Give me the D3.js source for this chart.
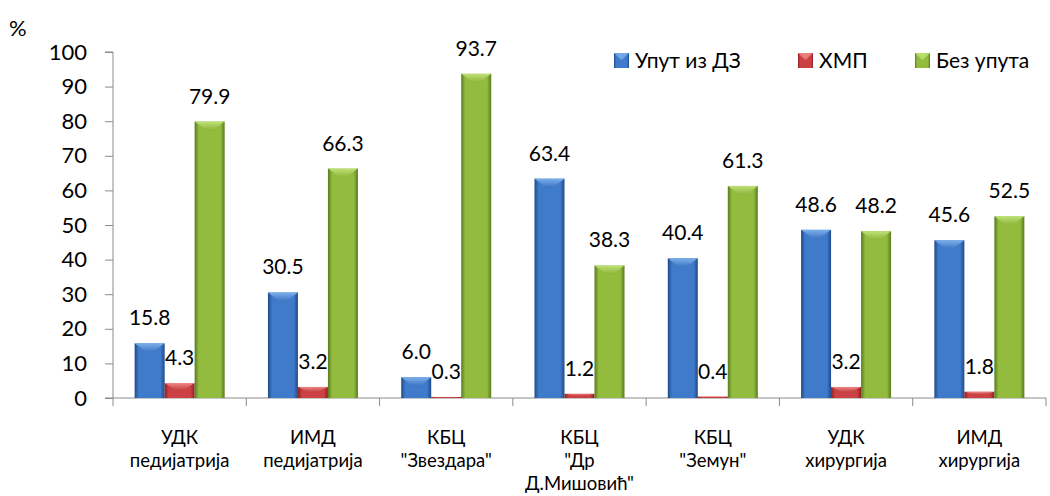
<!DOCTYPE html>
<html><head><meta charset="utf-8">
<script src="https://cdn.jsdelivr.net/npm/d3@7"></script>
<style>body{margin:0;background:#fff}svg{display:block}text{font-family:Lato,"Open Sans",sans-serif;fill:#000}</style>
</head><body><svg id="c" width="1050" height="496"></svg>
<script>
const categories = [["УДК","педијатрија"],["ИМД","педијатрија"],["КБЦ","\"Звездара\""],["КБЦ","\"Др","Д.Мишовић\""],["КБЦ","\"Земун\""],["УДК","хирургија"],["ИМД","хирургија"]];
const seriesNames = ["Упут из ДЗ","ХМП","Без упута"];
const uputIzDZ = [15.8,30.5,6.0,63.4,40.4,48.6,45.6];
const hmp = [4.3,3.2,0.3,1.2,0.4,3.2,1.8];
const bezUputa = [79.9,66.3,93.7,38.3,61.3,48.2,52.5];
const yTicks = [0,10,20,30,40,50,60,70,80,90,100];
const seriesValues = [uputIzDZ,hmp,bezUputa];

const colors = [
 {edge:"#1f4a88", mid:"#3f7acb", top:"#7fb2ee", topEdge:"#3d74c0"},
 {edge:"#8e1e22", mid:"#cc4244", top:"#f08a8a", topEdge:"#c03a3c"},
 {edge:"#587a20", mid:"#93bc3e", top:"#c2e27a", topEdge:"#8bb43a"}
];

const svg = d3.select("#c");
const defs = svg.append("defs");
colors.forEach((c,i)=>{
  const g = defs.append("linearGradient").attr("id","g"+i).attr("x1","0").attr("x2","1").attr("y1","0").attr("y2","0");
  g.append("stop").attr("offset","0").attr("stop-color",c.edge);
  g.append("stop").attr("offset","0.14").attr("stop-color",c.mid);
  g.append("stop").attr("offset","0.86").attr("stop-color",c.mid);
  g.append("stop").attr("offset","1").attr("stop-color",c.edge);
  const t = defs.append("linearGradient").attr("id","t"+i).attr("x1","0").attr("x2","0").attr("y1","0").attr("y2","1");
  t.append("stop").attr("offset","0").attr("stop-color",c.top);
  t.append("stop").attr("offset","1").attr("stop-color",c.topEdge);
});

const x0 = d3.scaleBand().domain(d3.range(categories.length)).range([113,1046]).paddingInner(0).paddingOuter(0);
const inner = 90;
const x1 = d3.scaleBand().domain(d3.range(3)).range([0,inner]);
const y = d3.scaleLinear().domain([0,100]).range([398,52]);

// y axis
const yAxis = d3.axisLeft(y).tickValues(yTicks).tickSize(8).tickPadding(18).tickFormat(d3.format("d"));
const ya = svg.append("g").attr("transform","translate(113,0)").call(yAxis);
ya.select(".domain").attr("stroke","#8c8c8c").attr("d","M-8,52H0V398H-8");
ya.selectAll(".tick line").attr("stroke","#8c8c8c");
ya.selectAll(".tick text").style("font-size","22px").style("font-family","Lato").attr("fill","#000");

// x axis
const xa = svg.append("g").attr("transform","translate(0,398)");
xa.append("line").attr("x1",113).attr("x2",1046).attr("y1",0).attr("y2",0).attr("stroke","#8c8c8c");
d3.range(categories.length+1).forEach(i=>{
  const xx = i<categories.length ? x0(i) : x0(categories.length-1)+x0.bandwidth();
  xa.append("line").attr("x1",xx).attr("x2",xx).attr("y1",0).attr("y2",8).attr("stroke","#8c8c8c");
});
categories.forEach((lines,i)=>{
  const t = xa.append("text").attr("text-anchor","middle").style("font-size","18.5px");
  lines.forEach((l,j)=>t.append("tspan").attr("x",x0(i)+x0.bandwidth()/2).attr("y",46+j*23).text(l));
});

// bars
const off = (x0.bandwidth()-inner)/2;
seriesValues.forEach((vals,s)=>{
  const g = svg.append("g");
  vals.forEach((v,i)=>{
    const bx = x0(i)+off+x1(s), bw = x1.bandwidth(), by = y(v), bh = y(0)-y(v);
    g.append("rect").attr("x",bx).attr("y",by).attr("width",bw).attr("height",bh).attr("fill",`url(#g${s})`);
    const d = Math.min(9, bh/2);
    if (bh>0.5){
      g.append("path").attr("d",`M${bx},${by}L${bx+bw},${by}L${bx+bw/2+3},${by+d}L${bx+bw/2-3},${by+d}Z`).attr("fill",`url(#t${s})`).attr("opacity",0.95);
    }
  });
});

// data labels
seriesValues.forEach((vals,s)=>{
  vals.forEach((v,i)=>{
    const cx = x0(i)+off+x1(s)+x1.bandwidth()/2;
    svg.append("text").attr("x",cx).attr("y",y(v)-18).attr("text-anchor","middle").style("font-size","21px").text(v.toFixed(1));
  });
});

// % label
svg.append("text").attr("x",9).attr("y",36).style("font-size","22px").text("%");

// legend
const legX = [614,798,915];
seriesNames.forEach((n,s)=>{
  const lx = legX[s];
  svg.append("rect").attr("x",lx).attr("y",53).attr("width",15).attr("height",15).attr("fill",`url(#g${s})`);
  svg.append("path").attr("d",`M${lx},53L${lx+15},53L${lx+7.5},60Z`).attr("fill",colors[s].top).attr("opacity",0.8);
  svg.append("text").attr("x",lx+21).attr("y",68).style("font-size","21px").text(n);
});
</script></body></html>
